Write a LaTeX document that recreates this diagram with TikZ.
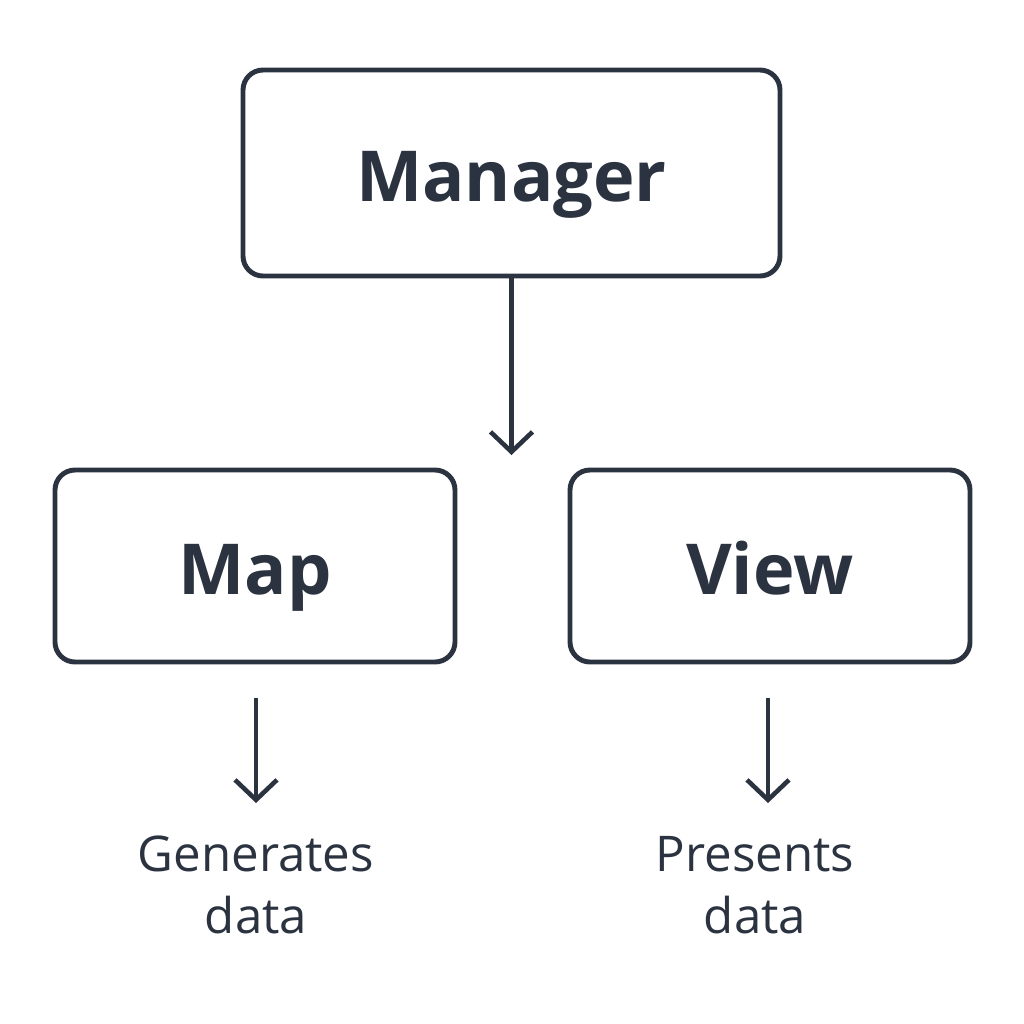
\documentclass[tikz,border=0pt]{standalone}
\usepackage{fontspec}
\setmainfont{Open Sans}
\usetikzlibrary{arrows.meta,positioning}
\definecolor{ink}{HTML}{2B3340}
\tikzset{
  box/.style={draw=ink, line width=1.4pt, rounded corners=0.2cm, inner sep=0pt, text=ink},
  title/.style={font=\fontsize{20}{24}\selectfont\bfseries, text height=0.56cm, text depth=0pt},
  flow/.style={draw=ink, line width=1.3pt, -{Straight Barb[length=0.2cm,width=0.42cm,line width=1.3pt]}},
  note/.style={text=ink, align=center, font=\fontsize{14}{17.5}\selectfont}
}
\begin{document}
\begin{tikzpicture}
  \useasboundingbox (0,0) rectangle (10.24,-10.24);
  % boxes
  \node[box, title, minimum width=5.37cm, minimum height=2.06cm] (manager) at (5.115,-1.73) {Manager};
  \node[box, title, minimum width=4.0cm, minimum height=1.92cm] (map) at (2.55,-5.66) {Map};
  \node[box, title, minimum width=4.0cm, minimum height=1.92cm] (view) at (7.70,-5.66) {View};

  % arrows
  \coordinate (split) at (5.115,-4.55);
  \draw[flow] (manager.south) -- (split);

  \coordinate (maptop) at (2.56,-6.98);
  \coordinate (mapend) at (2.56,-8.03);
  \coordinate (viewtop) at (7.68,-6.98);
  \coordinate (viewend) at (7.68,-8.03);
  \draw[flow] (maptop) -- (mapend);
  \draw[flow] (viewtop) -- (viewend);

  % notes
  \node[note] (gen) at (2.56,-8.85) {Generates\\data};
  \node[note] (pres) at (7.55,-8.85) {Presents\\data};
\end{tikzpicture}
\end{document}
